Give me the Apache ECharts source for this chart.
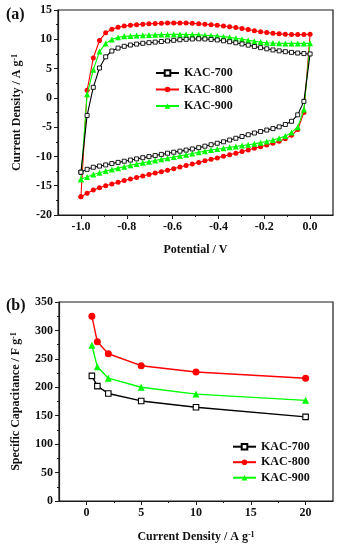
<!DOCTYPE html>
<html><head><meta charset="utf-8">
<script src="https://cdn.jsdelivr.net/npm/echarts@6/dist/echarts.min.js"></script>
<style>
html,body{margin:0;padding:0;background:#fff;}
#ca{position:absolute;left:0;top:0;width:338px;height:275px;}
#cb{position:absolute;left:0;top:275px;width:338px;height:275px;}
</style>
</head><body>
<div id="ca"></div><div id="cb"></div>
<script>
// ---------- (a) cyclic voltammetry ----------
const seriesNames = ['KAC-700', 'KAC-800', 'KAC-900'];
const potential = [-1.000, -0.973, -0.946, -0.919, -0.892, -0.865, -0.838, -0.811, -0.784, -0.757,
  -0.730, -0.703, -0.676, -0.649, -0.622, -0.595, -0.568, -0.541, -0.514, -0.486,
  -0.459, -0.432, -0.405, -0.378, -0.351, -0.324, -0.297, -0.270, -0.243, -0.216,
  -0.189, -0.162, -0.135, -0.108, -0.081, -0.054, -0.027, 0.000];
// anodic sweep (-1.0 -> 0.0), values at each potential above
const top700 = [-12.7, -3.0, 1.8, 5.1, 7.0, 8.0, 8.5, 8.8, 9.02, 9.18, 9.32, 9.42, 9.52, 9.62, 9.72, 9.82, 9.92, 10.0, 10.05, 10.08,
  10.05, 9.98, 9.88, 9.74, 9.58, 9.4, 9.2, 9.0, 8.78, 8.57, 8.37, 8.18, 8.02, 7.88, 7.76, 7.65, 7.56, 7.5];
const top800 = [-16.9, 1.3, 6.8, 9.8, 11.1, 11.7, 12.05, 12.25, 12.4, 12.5, 12.58, 12.65, 12.7, 12.75, 12.78, 12.8, 12.8, 12.78, 12.72, 12.65,
  12.58, 12.5, 12.4, 12.28, 12.15, 12.0, 11.84, 11.65, 11.47, 11.3, 11.15, 11.02, 10.93, 10.87, 10.82, 10.8, 10.8, 10.85];
const top900 = [-13.9, 0.6, 4.8, 7.9, 9.3, 9.95, 10.35, 10.5, 10.58, 10.63, 10.68, 10.72, 10.76, 10.8, 10.82, 10.83, 10.83, 10.82, 10.8, 10.76,
  10.7, 10.63, 10.55, 10.45, 10.33, 10.18, 10.02, 9.85, 9.67, 9.52, 9.42, 9.36, 9.32, 9.3, 9.3, 9.3, 9.3, 9.33];
// cathodic sweep (-0.027 -> -1.0), in sweep order
const bot700 = [-0.6, -2.9, -4.0, -4.55, -4.95, -5.25, -5.5, -5.75, -6.0, -6.3, -6.6, -6.9, -7.2, -7.5, -7.75, -8.0, -8.25, -8.5, -8.72,
  -8.92, -9.1, -9.28, -9.45, -9.65, -9.85, -10.03, -10.22, -10.42, -10.62, -10.82, -11.02, -11.22, -11.45, -11.65, -11.85, -12.2, -12.7];
const bot800 = [-2.5, -5.4, -6.4, -7.0, -7.4, -7.75, -8.05, -8.35, -8.6, -8.9, -9.15, -9.45, -9.7, -9.95, -10.25, -10.5, -10.75, -11.05, -11.3,
  -11.55, -11.8, -12.1, -12.35, -12.6, -12.85, -13.1, -13.35, -13.6, -13.85, -14.1, -14.4, -14.7, -15.0, -15.35, -15.75, -16.3, -16.9];
const bot900 = [-2.0, -5.0, -5.9, -6.5, -6.9, -7.2, -7.45, -7.65, -7.85, -8.0, -8.15, -8.3, -8.45, -8.6, -8.75, -8.9, -9.1, -9.3, -9.5,
  -9.7, -9.9, -10.1, -10.3, -10.5, -10.7, -10.9, -11.1, -11.3, -11.5, -11.75, -12.0, -12.25, -12.5, -12.8, -13.1, -13.5, -13.9];
const potTickLabels = [-1.0, -0.8, -0.6, -0.4, -0.2, 0.0];
const potMinorTicks = [-0.9, -0.7, -0.5, -0.3, -0.1];

// ---------- (b) rate capability ----------
const currentDensity = [0.5, 1, 2, 5, 10, 20];
const cap700 = [220, 202, 189, 176, 165, 148];
const cap800 = [325, 280, 259, 238, 227, 216];
const cap900 = [274, 236, 216, 200, 188, 177];
const cdTickLabels = [0, 5, 10, 15, 20];
const cdMinorTicks = [2.5, 7.5, 12.5, 17.5];

// ---------- styling ----------
const FONT = '"Liberation Serif","Times New Roman",serif';
const AXC = '#1a1a1a';
const colors = ['#000000', '#ff0000', '#00ff00'];
const fills = ['#ffffff', '#ff0000', '#00ff00'];
const symbols = ['rect', 'circle', 'triangle'];
const txt = { fontFamily: FONT, fontWeight: 'bold', fontSize: 12, color: '#111' };
const nameStyle = Object.assign({}, txt, {
  rich: { sup: { fontFamily: FONT, fontWeight: 'bold', fontSize: 8, color: '#111', verticalAlign: 'top', lineHeight: 8, padding: [0, 0, 6, 0] } }
});

function loop(top, bot) {
  const pts = potential.map((x, i) => [x, top[i]]);
  const rev = potential.slice(0, potential.length - 1).reverse();
  return pts.concat(rev.map((x, i) => [x, bot[i]]));
}

function xAxes(min, max, labels, minors, name, gap) {
  return [{
    type: 'value', min: min, max: max, position: 'bottom',
    axisLine: { show: true, onZero: false, lineStyle: { color: AXC, width: 1.2 } },
    axisTick: { show: true, customValues: labels, length: 4, lineStyle: { color: AXC, width: 1 } },
    axisLabel: Object.assign({ customValues: labels, margin: 6,
      formatter: v => (Math.abs(max - min) < 5 ? Number(v).toFixed(1) : String(v)) }, txt),
    splitLine: { show: false },
    name: name, nameLocation: 'middle', nameGap: gap, nameTextStyle: nameStyle
  }, {
    type: 'value', min: min, max: max, position: 'bottom',
    axisLine: { show: false, onZero: false },
    axisTick: { show: true, customValues: minors, length: 2, lineStyle: { color: AXC, width: 1 } },
    axisLabel: { show: false }, splitLine: { show: false }
  }];
}
function yAxis(min, max, interval, name, gap) {
  return {
    type: 'value', min: min, max: max, interval: interval,
    axisLine: { show: true, onZero: false, lineStyle: { color: AXC, width: 1.2 } },
    axisTick: { show: true, length: 4, lineStyle: { color: AXC, width: 1 } },
    minorTick: { show: true, splitNumber: 2, length: 2, lineStyle: { color: AXC, width: 1 } },
    axisLabel: Object.assign({ margin: 6 }, txt),
    splitLine: { show: false }, minorSplitLine: { show: false },
    name: name, nameLocation: 'middle', nameGap: gap, nameTextStyle: nameStyle
  };
}
function legend(left, top, gap) {
  return {
    orient: 'vertical', left: left, top: top, padding: 0, itemWidth: 23, itemHeight: 7, itemGap: gap,
    textStyle: Object.assign({ lineHeight: 12 }, txt), data: seriesNames
  };
}

// ---------- chart (a) ----------
const chartA = echarts.init(document.getElementById('ca'));
const cvTop = [top700, top800, top900], cvBot = [bot700, bot800, bot900];
chartA.setOption({
  animation: false,
  grid: { left: 58, right: 5, top: 10, bottom: 60, show: true, borderColor: AXC, borderWidth: 1.2, backgroundColor: 'transparent' },
  xAxis: xAxes(-1.1, 0.1, potTickLabels, potMinorTicks, 'Potential / V', 29),
  yAxis: yAxis(-20, 15, 5, 'Current Density / A g{sup|-1}', 21),
  legend: legend(155, 67, 4.5),
  graphic: [{ type: 'text', left: 6, top: 7, style: { text: '(a)', font: 'bold 16px ' + FONT, fill: '#111' } }],
  series: seriesNames.map((n, k) => ({
    name: n, type: 'line', xAxisIndex: 0, yAxisIndex: 0,
    data: loop(cvTop[k], cvBot[k]),
    symbol: symbols[k], symbolSize: k === 0 ? 4 : (k === 2 ? 6 : 5), showAllSymbol: true,
    lineStyle: { color: colors[k], width: 1.1 },
    itemStyle: { color: fills[k], borderColor: colors[k], borderWidth: k === 0 ? 0.9 : 0 },
    z: k === 0 ? 4 : (k === 2 ? 3 : 2)
  }))
});

// ---------- chart (b) ----------
const chartB = echarts.init(document.getElementById('cb'));
const caps = [cap700, cap800, cap900];
chartB.setOption({
  animation: false,
  grid: { left: 59, right: 5, top: 27, bottom: 43.5, show: true, borderColor: AXC, borderWidth: 1.2, backgroundColor: 'transparent' },
  xAxis: xAxes(-2.5, 22.5, cdTickLabels, cdMinorTicks, 'Current Density / A g{sup|-1}', 30),
  yAxis: yAxis(0, 350, 50, 'Specific Capacitance / F g{sup|-1}', 24.5),
  legend: legend(232, 165.7, 3.5),
  graphic: [{ type: 'text', left: 6, top: 23, style: { text: '(b)', font: 'bold 16px ' + FONT, fill: '#111' } }],
  series: seriesNames.map((n, k) => ({
    name: n, type: 'line',
    data: currentDensity.map((x, i) => [x, caps[k][i]]),
    symbol: symbols[k], symbolSize: k === 0 ? 5.5 : 7,
    lineStyle: { color: colors[k], width: 1.4 },
    itemStyle: { color: fills[k], borderColor: colors[k], borderWidth: k === 0 ? 1.1 : 0 }
  }))
});
</script>
</body></html>
